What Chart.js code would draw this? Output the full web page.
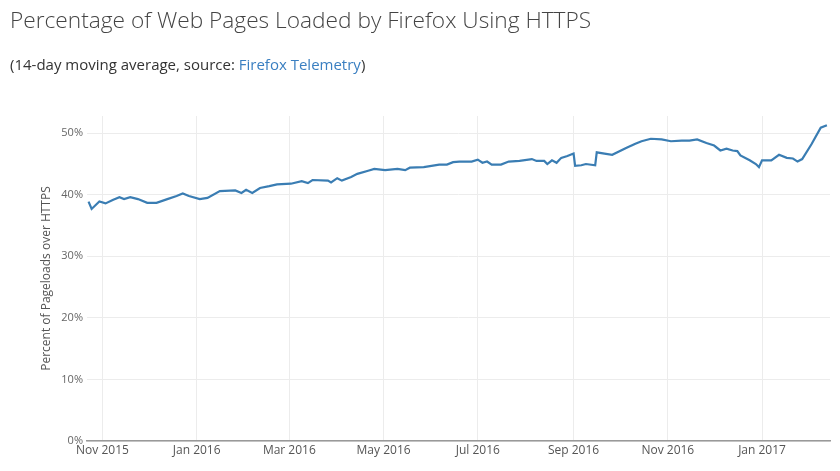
<!DOCTYPE html>
<html>
<head>
<meta charset="utf-8">
<script src="https://cdn.jsdelivr.net/npm/chart.js@4"></script>
<style>
  html, body { margin: 0; padding: 0; background: #fff; }
  #wrap { position: relative; width: 840px; height: 471px; overflow: hidden; }
  #title {
    position: absolute; left: 10px; top: 4px;
    font-family: "Open Sans", sans-serif; font-weight: 300;
    font-size: 22.7px; color: #444; white-space: nowrap;
  }
  #subtitle {
    position: absolute; left: 10px; top: 54px;
    font-family: "Open Sans", sans-serif; font-size: 15px; color: #333; white-space: nowrap;
  }
  #subtitle a { color: #3a7fc1; text-decoration: none; }
  #chart-box { position: absolute; left: 0; top: 0; width: 840px; height: 471px; }
</style>
</head>
<body>
<div id="wrap">
  <div id="chart-box"><canvas id="main-chart"></canvas></div>
  <div id="title">Percentage of Web Pages Loaded by Firefox Using HTTPS</div>
  <div id="subtitle">(14-day moving average, source: <a href="#">Firefox Telemetry</a>)</div>
</div>
<script>
// dates, one entry per visible bend of the line
const dates = [
  '2015-10-23', '2015-10-25', '2015-10-30', '2015-11-03', '2015-11-08', '2015-11-12',
  '2015-11-15', '2015-11-19', '2015-11-24', '2015-11-30', '2015-12-06', '2015-12-13',
  '2015-12-19', '2015-12-23', '2015-12-27', '2016-01-03', '2016-01-08', '2016-01-16',
  '2016-01-26', '2016-01-30', '2016-02-02', '2016-02-06', '2016-02-11', '2016-02-17',
  '2016-02-22', '2016-03-02', '2016-03-09', '2016-03-13', '2016-03-16', '2016-03-26',
  '2016-03-28', '2016-04-01', '2016-04-04', '2016-04-10', '2016-04-14', '2016-04-21',
  '2016-04-25', '2016-05-02', '2016-05-10', '2016-05-15', '2016-05-18', '2016-05-27',
  '2016-06-06', '2016-06-11', '2016-06-15', '2016-06-19', '2016-06-27', '2016-07-01',
  '2016-07-04', '2016-07-07', '2016-07-10', '2016-07-16', '2016-07-21', '2016-07-28',
  '2016-08-05', '2016-08-08', '2016-08-13', '2016-08-15', '2016-08-18', '2016-08-21',
  '2016-08-24', '2016-08-28', '2016-09-01', '2016-09-02', '2016-09-06', '2016-09-09',
  '2016-09-15', '2016-09-16', '2016-09-21', '2016-09-26', '2016-10-05', '2016-10-11',
  '2016-10-15', '2016-10-21', '2016-10-28', '2016-11-03', '2016-11-10', '2016-11-15',
  '2016-11-20', '2016-11-26', '2016-12-01', '2016-12-05', '2016-12-09', '2016-12-13',
  '2016-12-16', '2016-12-18', '2016-12-24', '2016-12-28', '2016-12-30', '2017-01-01',
  '2017-01-07', '2017-01-12', '2017-01-17', '2017-01-21', '2017-01-24', '2017-01-27',
  '2017-02-02', '2017-02-08', '2017-02-12'
];

// percent of pageloads over HTTPS
const httpsShare = [
  38.9, 37.7, 38.9, 38.6, 39.2, 39.6,
  39.3, 39.6, 39.3, 38.7, 38.7, 39.3,
  39.8, 40.2, 39.8, 39.3, 39.5, 40.6,
  40.7, 40.3, 40.8, 40.3, 41.1, 41.4,
  41.7, 41.8, 42.2, 41.9, 42.4, 42.3,
  42.0, 42.7, 42.3, 42.9, 43.4, 43.9,
  44.2, 44.0, 44.2, 44.0, 44.4, 44.5,
  44.9, 44.9, 45.3, 45.4, 45.4, 45.7,
  45.2, 45.4, 44.9, 44.9, 45.4, 45.5,
  45.8, 45.5, 45.5, 45.0, 45.6, 45.2,
  46.0, 46.3, 46.7, 44.7, 44.8, 45.0,
  44.8, 46.9, 46.7, 46.5, 47.6, 48.3,
  48.7, 49.1, 49.0, 48.7, 48.8, 48.8,
  49.0, 48.4, 48.0, 47.2, 47.5, 47.2,
  47.1, 46.4, 45.6, 45.0, 44.5, 45.6,
  45.6, 46.5, 46.0, 45.9, 45.4, 45.8,
  48.2, 50.9, 51.3
];

const tickDates = ['2015-11-01', '2016-01-01', '2016-03-01', '2016-05-01', '2016-07-01',
  '2016-09-01', '2016-11-01', '2017-01-01'];
const tickLabels = ['Nov 2015', 'Jan 2016', 'Mar 2016', 'May 2016', 'Jul 2016',
  'Sep 2016', 'Nov 2016', 'Jan 2017'];
const yTicks = [0, 10, 20, 30, 40, 50];

const xStart = '2015-10-22';
const xEnd = '2017-02-14';

const dayOf = d => Date.parse(d + 'T00:00:00Z') / 86400000;

const points = dates.map((d, i) => ({ x: dayOf(d), y: httpsShare[i] }));
const gridColor = '#ececec';
const font = { family: '"Open Sans", sans-serif', size: 11 };

new Chart(document.getElementById('main-chart'), {
  type: 'line',
  data: {
    datasets: [{
      data: points,
      borderColor: '#3a7db3',
      borderWidth: 2.2,
      pointRadius: 0,
      tension: 0,
      fill: false
    }]
  },
  options: {
    responsive: true,
    maintainAspectRatio: false,
    animation: false,
    layout: { padding: { top: 116, left: 39, right: 10, bottom: 0 } },
    plugins: {
      legend: { display: false },
      tooltip: { enabled: false }
    },
    scales: {
      x: {
        type: 'linear',
        min: dayOf(xStart),
        max: dayOf(xEnd),
        afterBuildTicks: scale => {
          scale.ticks = tickDates.map(d => ({ value: dayOf(d) }));
        },
        afterFit: scale => { scale.height = 30; },
        ticks: {
          autoSkip: false,
          maxRotation: 0,
          color: '#555',
          font: { family: '"Open Sans", sans-serif', size: 12 },
          padding: 2,
          callback: (value) => {
            const i = tickDates.findIndex(d => dayOf(d) === value);
            return i >= 0 ? tickLabels[i] : '';
          }
        },
        grid: { color: gridColor, drawTicks: false },
        border: { color: '#999', width: 1.5 }
      },
      y: {
        min: 0,
        max: 52.8,
        afterBuildTicks: scale => {
          scale.ticks = yTicks.map(v => ({ value: v }));
        },
        afterFit: scale => { scale.width = 48; },
        ticks: {
          color: '#666',
          font: font,
          padding: 4,
          callback: value => value + '%'
        },
        grid: { color: gridColor, drawTicks: false },
        border: { display: false },
        title: {
          display: true,
          text: 'Percent of Pageloads over HTTPS',
          color: '#555',
          font: { family: '"Open Sans", sans-serif', size: 12 },
          padding: 0
        }
      }
    }
  }
});
</script>
</body>
</html>
